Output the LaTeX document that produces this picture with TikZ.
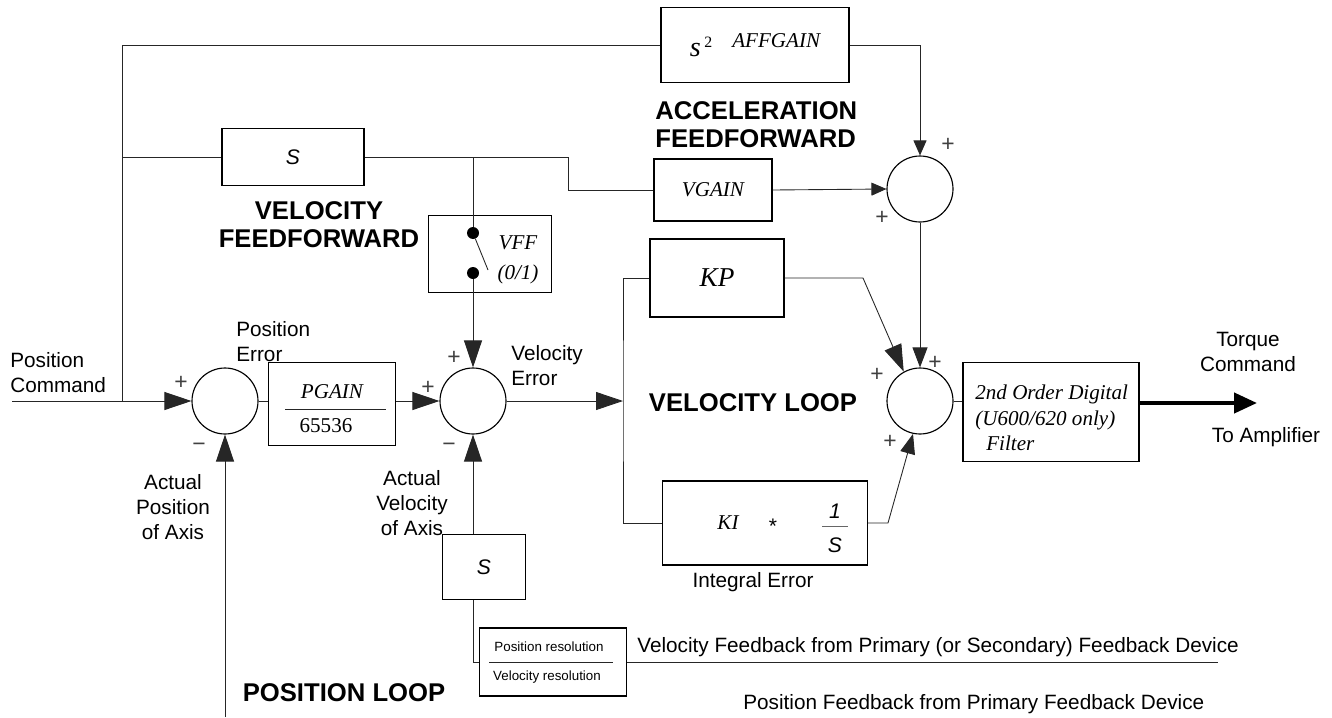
\documentclass[tikz,border=0pt]{standalone}
\usepackage{fontspec}
\setmainfont{Liberation Sans}
\newfontfamily\gainfont{Liberation Serif}
\usetikzlibrary{arrows.meta,positioning}
\tikzset{
  blockbox/.style={
    rectangle,
    draw,
    line width=0.75pt,
    inner sep=0pt
  },
  sumnode/.style={
    circle,
    draw,
    line width=0.65pt,
    minimum size=13.2mm,
    inner sep=0pt
  },
  swdot/.style={circle, fill=black, minimum size=2.4mm, inner sep=0pt},
  wire/.style={line width=0.5pt, draw=black!85},
  bigtip/.style={wire, -{Triangle[length=5.4mm,width=3.6mm]}},
  midtip/.style={wire, -{Triangle[length=4mm,width=3mm]}},
  smalltip/.style={wire, -{Triangle[length=3mm,width=2.6mm]}},
  outtip/.style={line width=2.4pt, -{Triangle[length=4.6mm,width=4mm]}},
  lbl/.style={font=\fontsize{11.8}{14.2}\selectfont, align=center, inner sep=0pt},
  headlbl/.style={font=\bfseries\fontsize{14.6}{15.9}\selectfont, align=center, inner sep=0pt},
  gainlbl/.style={font=\gainfont\itshape\fontsize{12}{17}\selectfont, align=center},
  sanslbl/.style={font=\itshape\fontsize{12}{14}\selectfont, inner sep=0pt},
  signlbl/.style={font=\fontsize{13}{13}\selectfont, text=black!75, inner sep=0pt},
  tinylbl/.style={font=\fontsize{7.6}{8}\selectfont, inner sep=0pt}
}

\begin{document}
\begin{tikzpicture}[x=0.02cm, y=-0.02cm]
  \useasboundingbox (0,0) rectangle (1332,717);
  % summing junctions
  \node[sumnode] (possum) at (225,401) {};
  \node[sumnode] (velsum) at (473,401) {};
  \node[sumnode] (accsum) at (920,189) {};
  \node[sumnode] (torqsum) at (920,401) {};
  % blocks
  \node[blockbox, gainlbl, minimum width=3.76cm, minimum height=1.5cm] (affbox) at (755,45)
    {\raisebox{-5pt}{\fontsize{16}{16}\selectfont s}\,{\upshape\fontsize{9}{9}\selectfont 2}\hspace{4mm}AFFGAIN};
  \node[blockbox, sanslbl, minimum width=2.84cm, minimum height=1.14cm] (sbox) at (293,157) {S};
  \node[blockbox, gainlbl, minimum width=2.36cm, minimum height=1.24cm] (vgainbox) at (713,190) {VGAIN};
  \node[blockbox, minimum width=2.46cm, minimum height=1.54cm] (vffbox) at (490,254) {};
  \node[blockbox, minimum width=2.54cm, minimum height=1.66cm] (pgainbox) at (332,404) {};
  \node[blockbox, gainlbl, font=\gainfont\itshape\fontsize{15.5}{17}\selectfont,
    minimum width=2.68cm, minimum height=1.56cm] (kpbox) at (717,278) {KP};
  \node[blockbox, minimum width=4.1cm, minimum height=1.68cm] (kibox) at (765,523) {};
  \node[blockbox, minimum width=3.52cm, minimum height=1.98cm] (filterbox) at (1051,412) {};
  \node[blockbox, sanslbl, minimum width=1.66cm, minimum height=1.3cm] (sfbbox) at (484,567) {S};
  \node[blockbox, minimum width=2.94cm, minimum height=1.36cm] (resbox) at (553,662) {};
  % texts inside blocks
  \node[gainlbl, font=\gainfont\itshape\fontsize{12}{17}\selectfont] (vfftext) at (518,260) {VFF\\(0/1)};
  \node[gainlbl, inner sep=0pt] (pgaintop) at (332,392) {PGAIN};
  \node[gainlbl, font=\gainfont\fontsize{12}{14}\selectfont, inner sep=0pt] (pgainbot) at (326,426) {65536};
  \draw[wire] (285,409) -- (386,409);
  \node[gainlbl, inner sep=0pt] (kitext) at (728,523) {KI};
  \node[font=\fontsize{12}{14}\selectfont, inner sep=0pt] (kistar) at (773,526) {*};
  \node[sanslbl] (kione) at (835,511) {1};
  \draw[wire, black!60] (822,526) -- (848,526);
  \node[sanslbl] (kis) at (835,545) {S};
  \node[gainlbl, align=left, anchor=west, inner sep=0pt,
    font=\gainfont\itshape\fontsize{12}{14.4}\selectfont] (filtertext) at (975,418)
    {2nd Order Digital\\(U600/620 only)\\\hspace{2.2mm}Filter};
  \node[tinylbl] (restop) at (549,647) {Position resolution};
  \node[tinylbl] (resbot) at (547,677) {Velocity resolution};
  \draw[wire] (489,662) -- (613,662);
  % switch
  \node[swdot] (dottop) at (473,233) {};
  \node[swdot] (dotbot) at (473,273) {};
  \coordinate (blade) at (488,270);
  \draw[wire] (dottop) -- (blade);
  % labels
  \node[lbl, align=left, anchor=west] (poscmd) at (10,373) {Position\\Command};
  \node[lbl, align=left, anchor=west] (poserr) at (236,342) {Position\\Error};
  \node[lbl, align=left, anchor=west] (velerr) at (511,366) {Velocity\\Error};
  \node[lbl] (actpos) at (173,507) {Actual\\Position\\of Axis};
  \node[lbl] (actvel) at (412,503) {Actual\\Velocity\\of Axis};
  \node[headlbl] (vffhead) at (319,225) {VELOCITY\\FEEDFORWARD};
  \node[headlbl, align=left, anchor=west] (affhead) at (655,125) {ACCELERATION\\FEEDFORWARD};
  \node[headlbl] (velloop) at (753,403) {VELOCITY LOOP};
  \node[headlbl] (posloop) at (344,693) {POSITION LOOP};
  \node[lbl] (interr) at (753,582) {Integral Error};
  \node[lbl] (torqcmd) at (1248,352) {Torque\\Command};
  \node[lbl] (toamp) at (1266,437) {To Amplifier};
  \node[lbl, anchor=base west] (velfb) at (637,652) {Velocity Feedback from Primary (or Secondary) Feedback Device};
  \node[lbl, anchor=west] (posfb) at (743,704) {Position Feedback from Primary Feedback Device};
  % signs
  \node[signlbl] at (181,383) {+};
  \node[signlbl] at (199,447) {−};
  \node[signlbl] at (428,388) {+};
  \node[signlbl] at (454,358) {+};
  \node[signlbl] at (449,447) {−};
  \node[signlbl] at (948,145) {+};
  \node[signlbl] at (882,218) {+};
  \node[signlbl] at (935,363) {+};
  \node[signlbl] at (877,375) {+};
  \node[signlbl] at (890,442) {+};
  % connector points
  \coordinate (pcin) at (12,401);
  \coordinate (tap) at (122,401);
  \coordinate (jog) at (568,190);
  \coordinate (vfftap) at (473,157);
  \coordinate (vsplit) at (623,401);
  \coordinate (kpbend) at (863,278);
  \coordinate (kibend) at (888,523);
  \coordinate (ampout) at (1257,403);
  \coordinate (resbend) at (473,662);
  \coordinate (vfbend) at (1218,662);
  \coordinate (pfbin) at (225,717);
  % connectors
  \draw[bigtip] (pcin) -- (possum.west);
  \draw[wire] (tap) |- (affbox.west);
  \draw[wire] (tap) |- (sbox.west);
  \draw[smalltip] (affbox.east) -| (accsum.north);
  \draw[wire] (sbox.east) -| (jog) -- (vgainbox.west);
  \draw[smalltip] (vgainbox.east) -- (accsum.west);
  \draw[wire] (vfftap) -- (dottop);
  \draw[bigtip] (dotbot) -- (velsum.north);
  \draw[wire] (possum.east) -- (possum.east -| pgainbox.west);
  \draw[bigtip] (pgainbox.east |- velsum) -- (velsum.west);
  \draw[bigtip] (velsum.east) -- (vsplit);
  \draw[wire] (kpbox.west) -| (vsplit) |- (kibox.west);
  \draw[bigtip] (kpbox.east) -- (kpbend) -- (torqsum.119);
  \draw[midtip] (accsum.south) -- (torqsum.north);
  \draw[midtip] (kibox.east) -- (kibend) -- (torqsum.-102);
  \draw[wire] (torqsum.east) -- (torqsum.east -| filterbox.west);
  \draw[outtip] (filterbox.east |- ampout) -- (ampout);
  \draw[bigtip] (velsum |- sfbbox.north) -- (velsum.south);
  \draw[wire] (velsum |- sfbbox.south) -- (resbend) -- (resbox.west);
  \draw[wire] (resbox.east) -- (vfbend);
  \draw[bigtip] (pfbin) -- (possum.south);
\end{tikzpicture}
\end{document}
